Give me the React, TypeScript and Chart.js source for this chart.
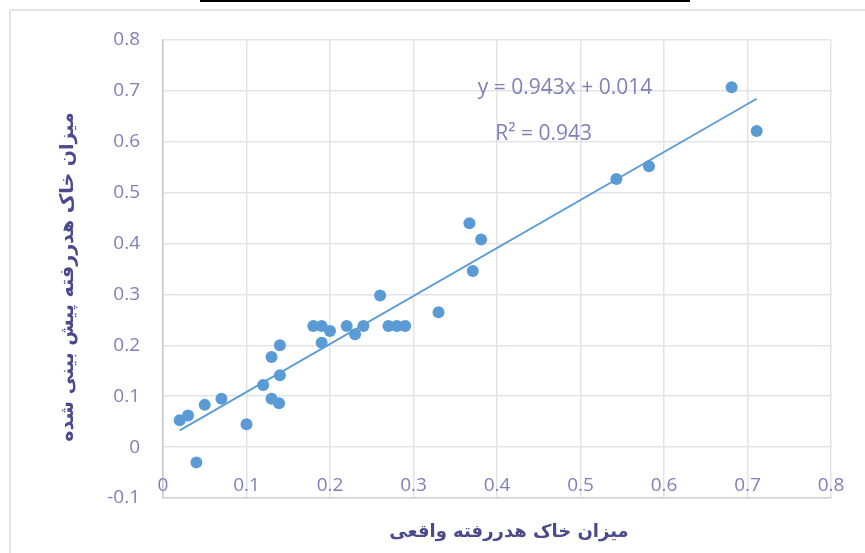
import React, { useEffect, useRef } from "react";
import { Chart, registerables } from "chart.js";

Chart.register(...registerables);

const actual = [0.02, 0.03, 0.04, 0.05, 0.07, 0.1, 0.12, 0.13, 0.13, 0.14, 0.14, 0.139, 0.18, 0.19, 0.19, 0.2, 0.22, 0.23, 0.24, 0.26, 0.27, 0.28, 0.29, 0.33, 0.367, 0.371, 0.381, 0.543, 0.582, 0.681, 0.711];
const predicted = [0.053, 0.062, -0.03, 0.083, 0.095, 0.045, 0.122, 0.177, 0.095, 0.2, 0.141, 0.086, 0.238, 0.238, 0.205, 0.228, 0.238, 0.222, 0.238, 0.298, 0.238, 0.238, 0.238, 0.265, 0.44, 0.346, 0.408, 0.527, 0.552, 0.707, 0.621];

const slope = 0.943;
const intercept = 0.014;
const rSquared = 0.943;

const xTicks = [0, 0.1, 0.2, 0.3, 0.4, 0.5, 0.6, 0.7, 0.8];
const yTicks = [-0.1, 0, 0.1, 0.2, 0.3, 0.4, 0.5, 0.6, 0.7, 0.8];

const xTitle = "میزان خاک هدررفته واقعی";
const yTitle = "میزان خاک هدررفته پیش بینی شده";

const tickColor = "#8080b8";
const titleColor = "#4a4a8c";
const pointColor = "#5b9bd5";
const gridColor = "#e3e3ea";
const tickFont = "19px 'Open Sans'";

export default function App() {
  const ref = useRef<HTMLCanvasElement | null>(null);

  useEffect(() => {
    document.body.style.margin = "0";
    const canvas = ref.current;
    if (!canvas) return;
    const xMin = Math.min(...actual);
    const xMax = Math.max(...actual);
    const trend = [
      { x: xMin, y: slope * xMin + intercept },
      { x: xMax, y: slope * xMax + intercept },
    ];

    const textPlugin = {
      id: "texts",
      afterDatasetsDraw(chart: any) {
        const ctx = chart.ctx;
        const xs = chart.scales.x;
        const ys = chart.scales.y;
        const area = chart.chartArea;
        ctx.save();
        // x tick labels, sitting just above the bottom edge
        ctx.fillStyle = tickColor;
        ctx.font = tickFont;
        ctx.textAlign = "center";
        ctx.textBaseline = "middle";
        xTicks.forEach((v) => {
          ctx.fillText(String(v), xs.getPixelForValue(v), area.bottom - 12);
        });
        // trendline equation
        ctx.font = "21px 'Open Sans'";
        ctx.textAlign = "left";
        ctx.fillText(
          `y = ${slope}x + ${intercept}`,
          xs.getPixelForValue(0.377),
          ys.getPixelForValue(0.705)
        );
        ctx.fillText(
          `R² = ${rSquared}`,
          xs.getPixelForValue(0.398),
          ys.getPixelForValue(0.616)
        );
        // axis titles
        ctx.fillStyle = titleColor;
        ctx.textAlign = "center";
        ctx.font = "bold 18px 'DejaVu Sans'";
        ctx.fillText(xTitle, (area.left + area.right) / 2 + 12, area.bottom + 34);
        ctx.translate(68, (area.top + area.bottom) / 2 + 8);
        ctx.rotate(-Math.PI / 2);
        ctx.font = "bold 19px 'DejaVu Sans'";
        ctx.fillText(yTitle, 0, 0);
        ctx.restore();
      },
    };

    const chart = new Chart(canvas, {
      type: "scatter",
      data: {
        datasets: [
          {
            type: "scatter",
            data: actual.map((x, i) => ({ x, y: predicted[i] })),
            backgroundColor: pointColor,
            borderWidth: 0,
            pointRadius: 6,
            order: 1,
          },
          {
            type: "line",
            data: trend,
            borderColor: pointColor,
            borderWidth: 1.8,
            pointRadius: 0,
            fill: false,
            order: 2,
          },
        ],
      },
      options: {
        animation: false,
        responsive: false,
        devicePixelRatio: 1,
        layout: { padding: { top: 40, right: 34, left: 0, bottom: 0 } },
        plugins: {
          legend: { display: false },
          tooltip: { enabled: false },
        },
        scales: {
          x: {
            type: "linear",
            min: 0,
            max: 0.8,
            afterBuildTicks: (s: any) => {
              s.ticks = xTicks.map((v) => ({ value: v }));
            },
            afterFit: (s: any) => {
              s.height = 55;
            },
            ticks: { display: false },
            grid: { color: gridColor, drawTicks: false, lineWidth: 1.5 },
            border: { color: "#d0d0d8", width: 1.5 },
          },
          y: {
            type: "linear",
            min: -0.1,
            max: 0.8,
            afterBuildTicks: (s: any) => {
              s.ticks = yTicks.map((v) => ({ value: v }));
            },
            afterFit: (s: any) => {
              s.width = 163;
            },
            ticks: {
              color: tickColor,
              font: { family: "'Open Sans'", size: 19 },
              padding: 23,
              callback: (v: any) => String(v),
            },
            grid: { color: gridColor, drawTicks: false, lineWidth: 1.5 },
            border: { color: "#c8c8d4", width: 1.5 },
          },
        },
      },
      plugins: [textPlugin],
    } as any);

    return () => chart.destroy();
  }, []);

  return (
    <div
      style={{
        position: "fixed",
        left: 0,
        top: 0,
        width: 865,
        height: 553,
        background: "#ffffff",
        overflow: "hidden",
      }}
    >
      <div
        style={{
          position: "absolute",
          left: 200,
          top: 0,
          width: 490,
          height: 2,
          background: "#000",
        }}
      />
      <div
        style={{
          position: "absolute",
          left: 9,
          top: 9,
          width: 900,
          height: 600,
          border: "2px solid #e4e4e8",
          boxSizing: "border-box",
        }}
      />
      <canvas
        ref={ref}
        width={865}
        height={553}
        style={{ position: "absolute", left: 0, top: 0, width: 865, height: 553 }}
      />
    </div>
  );
}
